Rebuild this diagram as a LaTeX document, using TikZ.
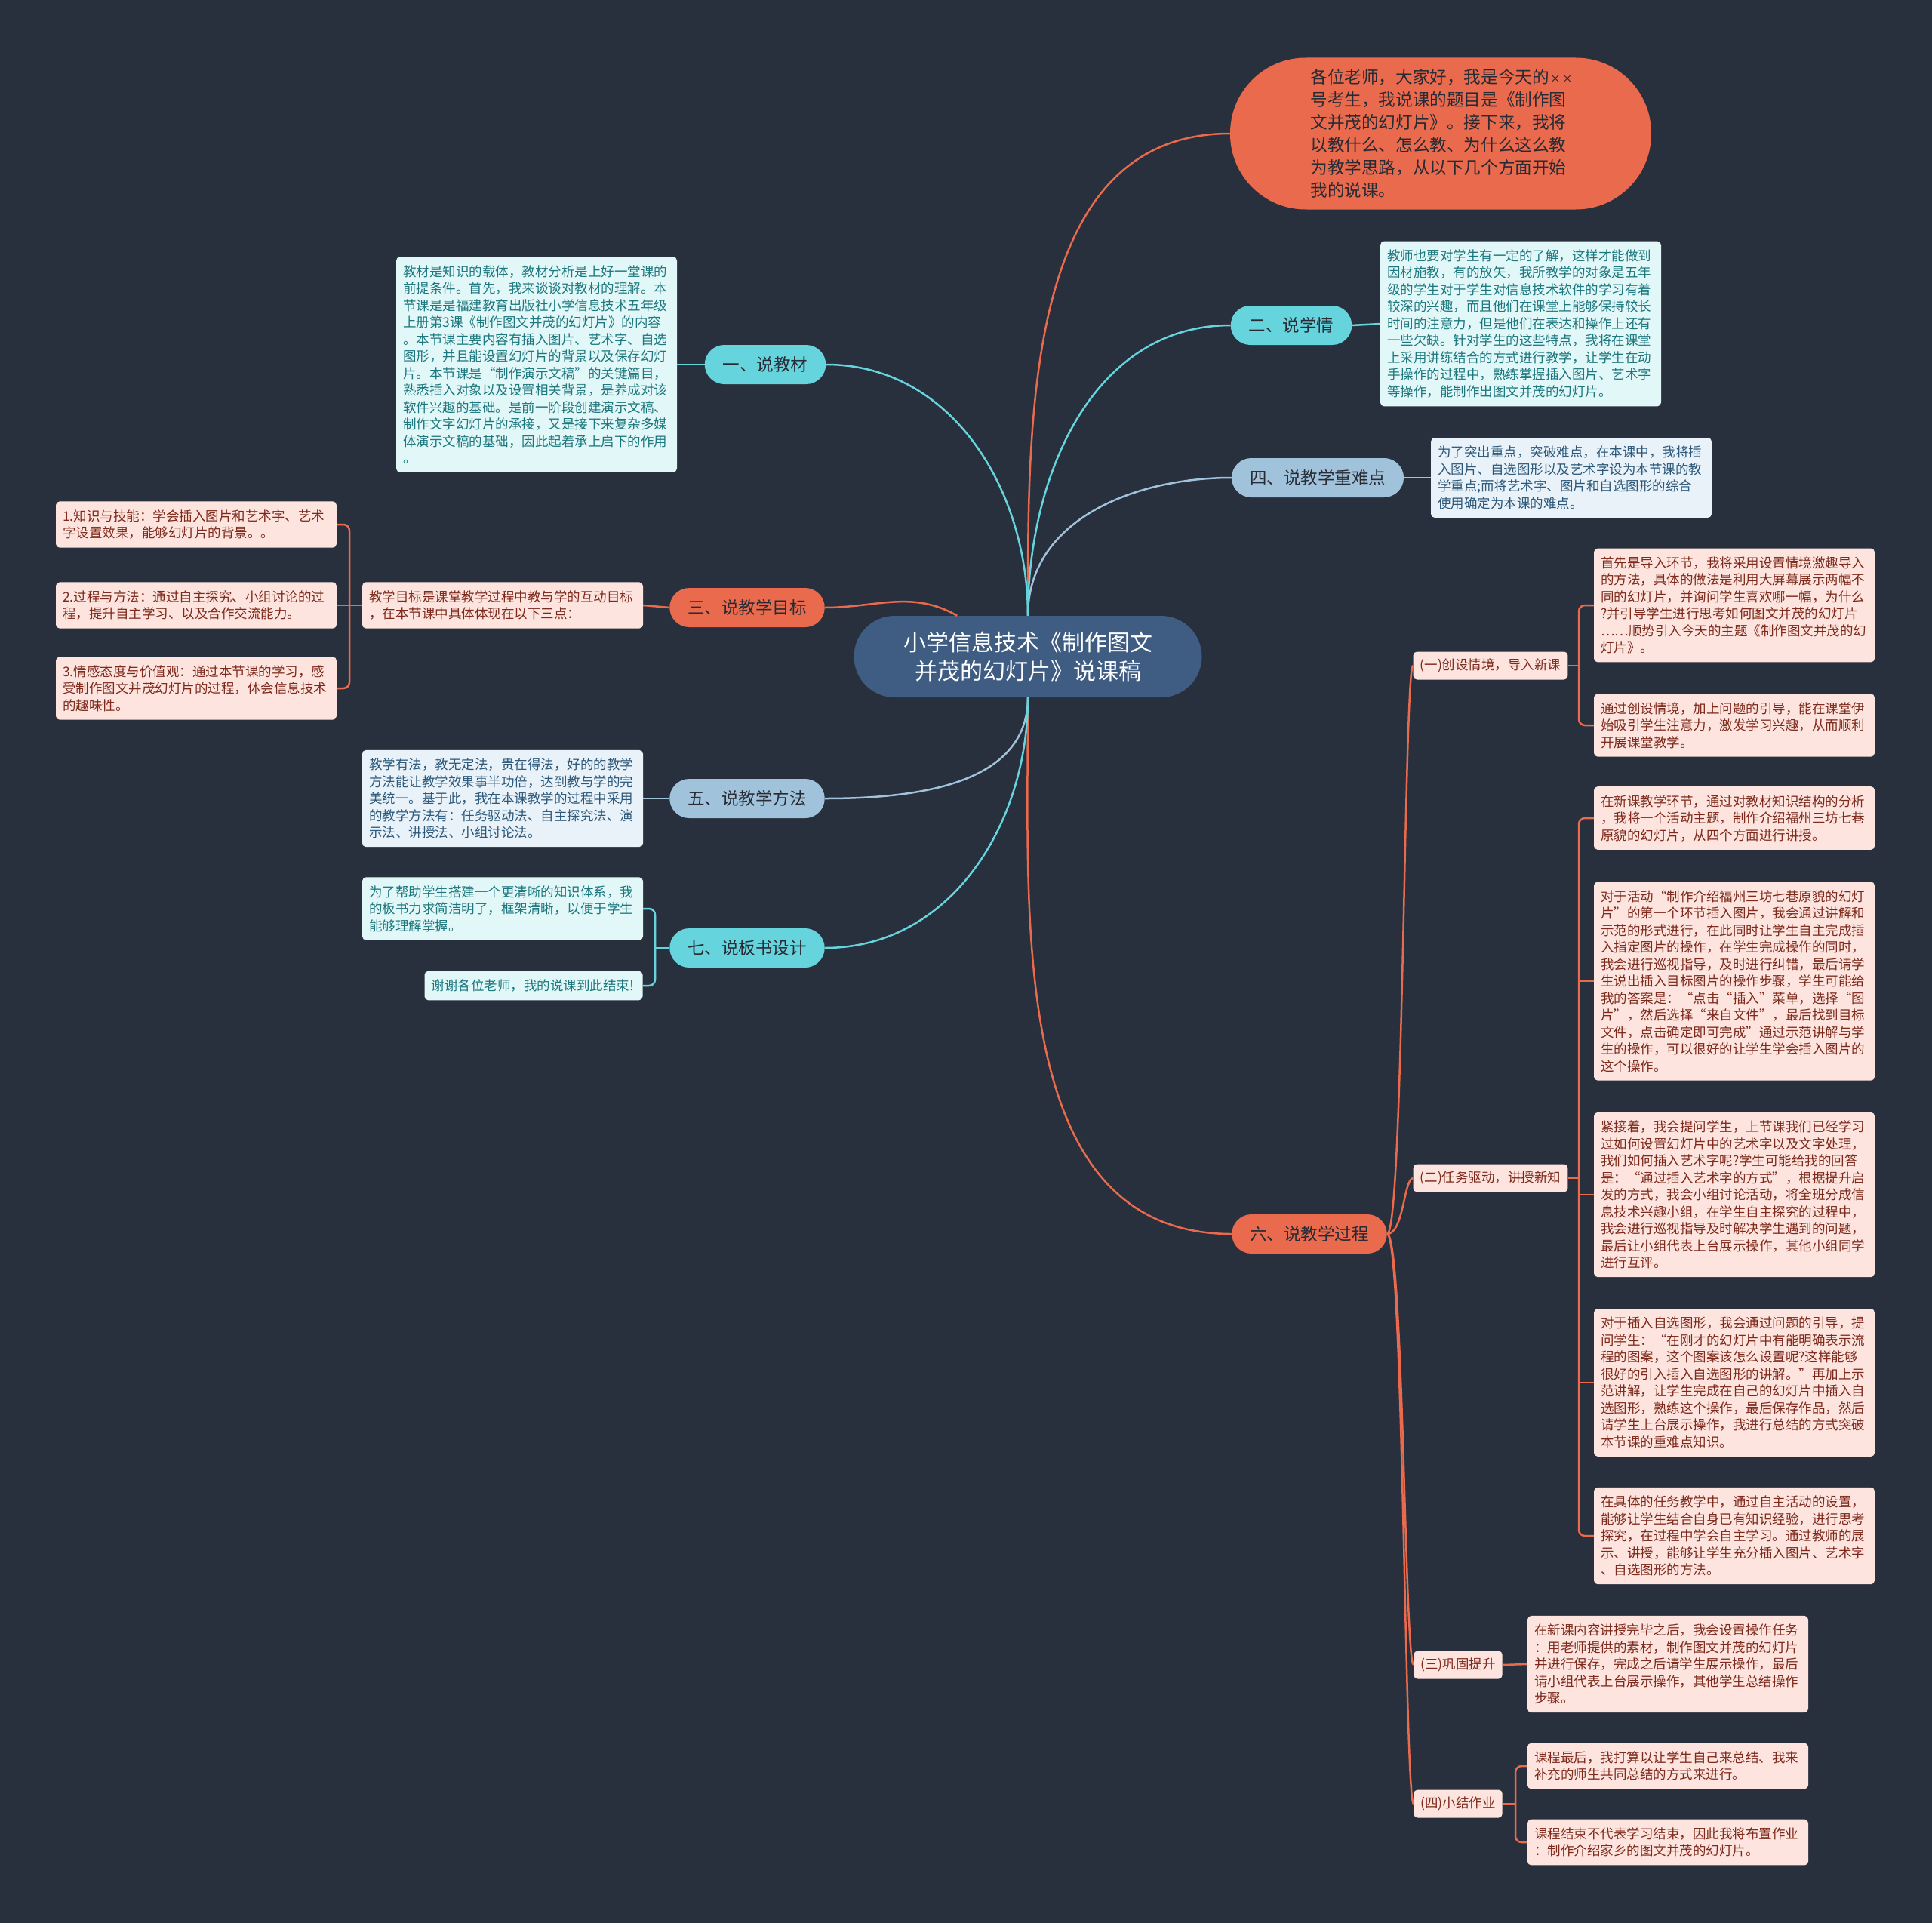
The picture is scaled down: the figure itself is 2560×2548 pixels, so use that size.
\documentclass[tikz,border=0pt]{standalone}
\usepackage{fontspec}
\setmainfont{Noto Sans CJK SC}
\definecolor{sfondo}{RGB}{41,48,61}
\definecolor{arancio}{RGB}{233,106,77}
\definecolor{ciano}{RGB}{102,212,221}
\definecolor{azzurro}{RGB}{160,194,219}
\definecolor{centro}{RGB}{63,92,130}
\definecolor{fondoC}{RGB}{226,247,248}
\definecolor{testoC}{RGB}{28,120,126}
\definecolor{fondoB}{RGB}{233,242,249}
\definecolor{testoB}{RGB}{44,88,122}
\definecolor{fondoA}{RGB}{253,228,222}
\definecolor{testoA}{RGB}{125,42,28}
\definecolor{scuro}{RGB}{40,42,52}
\begin{document}
\begin{tikzpicture}[
    x=1pt, y=-1pt,
    radice/.style={fill=centro, text=white, rounded corners=54pt, minimum width=461pt, minimum height=108pt, align=center, font=\fontsize{30}{38}\selectfont},
    bolla/.style={fill=arancio, text=scuro, rounded corners=100pt, minimum width=558pt, minimum height=201pt, text width=345pt, align=left, font=\fontsize{22.6}{30}\selectfont},
    ramo/.style={rounded corners=26pt, minimum height=52pt, inner xsep=24pt, text=scuro, font=\fontsize{22.5}{27}\selectfont},
    sotto/.style={fill=fondoA, text=testoA, rounded corners=5pt, inner xsep=9pt, minimum height=37pt, font=\fontsize{17.5}{21}\selectfont},
    foglia/.style={rounded corners=5pt, inner xsep=9pt, inner ysep=11pt, text width=354pt, align=left, font=\fontsize{17.5}{22.5}\selectfont},
    fC/.style={foglia, fill=fondoC, text=testoC},
    fB/.style={foglia, fill=fondoB, text=testoB},
    fA/.style={foglia, fill=fondoA, text=testoA},
    fune/.style={line width=2.5pt}
]

    % 0. Sfondo
    \fill[sfondo] (0,0) rectangle (2560,2548);
    \useasboundingbox (0,0) rectangle (2560,2548);

    % 1. Nodo centrale e introduzione
    \node[radice] (C)  at (1362,870) {小学信息技术《制作图文\\并茂的幻灯片》说课稿};
    \node[bolla]  (T0) at (1909,177) {各位老师，大家好，我是今天的{\fontsize{16}{30}\selectfont ××}\\号考生，我说课的题目是《制作图\\文并茂的幻灯片》。接下来，我将\\以教什么、怎么教、为什么这么教\\为教学思路，从以下几个方面开始\\我的说课。};

    % 2. Rami principali
    \node[ramo, fill=ciano]   (R2) at (1711,431)  {二、说学情};
    \node[ramo, fill=azzurro] (R4) at (1746,633)  {四、说教学重难点};
    \node[ramo, fill=arancio] (R6) at (1735,1635) {六、说教学过程};
    \node[ramo, fill=ciano]   (L1) at (1014,483)  {一、说教材};
    \node[ramo, fill=arancio] (L3) at (990,805)   {三、说教学目标};
    \node[ramo, fill=azzurro] (L5) at (990,1058)  {五、说教学方法};
    \node[ramo, fill=ciano]   (L7) at (990,1256)  {七、说板书设计};

    % 3. Foglie a sinistra
    \node[fC] (F1) at (711,483) {教材是知识的载体，教材分析是上好一堂课的\\前提条件。首先，我来谈谈对教材的理解。本\\节课是是福建教育出版社小学信息技术五年级\\上册第3课《制作图文并茂的幻灯片》的内容\\。本节课主要内容有插入图片、艺术字、自选\\图形，并且能设置幻灯片的背景以及保存幻灯\\片。本节课是“制作演示文稿”的关键篇目，\\熟悉插入对象以及设置相关背景，是养成对该\\软件兴趣的基础。是前一阶段创建演示文稿、\\制作文字幻灯片的承接，又是接下来复杂多媒\\体演示文稿的基础，因此起着承上启下的作用\\。};
    \node[fA] (F3) at (666,802) {教学目标是课堂教学过程中教与学的互动目标\\，在本节课中具体体现在以下三点：};
    \node[fA] (G1) at (260,695) {1.知识与技能：学会插入图片和艺术字、艺术\\字设置效果，能够幻灯片的背景。。};
    \node[fA] (G2) at (260,802) {2.过程与方法：通过自主探究、小组讨论的过\\程，提升自主学习、以及合作交流能力。};
    \node[fA] (G3) at (260,912) {3.情感态度与价值观：通过本节课的学习，感\\受制作图文并茂幻灯片的过程，体会信息技术\\的趣味性。};
    \node[fB] (F5) at (666,1058) {教学有法，教无定法，贵在得法，好的的教学\\方法能让教学效果事半功倍，达到教与学的完\\美统一。基于此，我在本课教学的过程中采用\\的教学方法有：任务驱动法、自主探究法、演\\示法、讲授法、小组讨论法。};
    \node[fC] (F7a) at (666,1204) {为了帮助学生搭建一个更清晰的知识体系，我\\的板书力求简洁明了，框架清晰，以便于学生\\能够理解掌握。};
    \node[fC, text width=271pt] (F7b) at (707,1306) {谢谢各位老师，我的说课到此结束!};

    % 4. Foglie a destra (rami 2 e 4)
    \node[fC] (F2) at (2015,429) {教师也要对学生有一定的了解，这样才能做到\\因材施教，有的放矢，我所教学的对象是五年\\级的学生对于学生对信息技术软件的学习有着\\较深的兴趣，而且他们在课堂上能够保持较长\\时间的注意力，但是他们在表达和操作上还有\\一些欠缺。针对学生的这些特点，我将在课堂\\上采用讲练结合的方式进行教学，让学生在动\\手操作的过程中，熟练掌握插入图片、艺术字\\等操作，能制作出图文并茂的幻灯片。};
    \node[fB] (F4) at (2082,633) {为了突出重点，突破难点，在本课中，我将插\\入图片、自选图形以及艺术字设为本节课的教\\学重点;而将艺术字、图片和自选图形的综合\\使用确定为本课的难点。};

    % 5. Sottorami del punto sei
    \node[sotto] (S1) at (1975,882)  {(一)创设情境，导入新课};
    \node[sotto] (S2) at (1975,1561) {(二)任务驱动，讲授新知};
    \node[sotto] (S3) at (1932,2206) {(三)巩固提升};
    \node[sotto] (S4) at (1932,2390) {(四)小结作业};

    % 6. Foglie dei sottorami
    \node[fA] (A1) at (2298,802) {首先是导入环节，我将采用设置情境激趣导入\\的方法，具体的做法是利用大屏幕展示两幅不\\同的幻灯片，并询问学生喜欢哪一幅，为什么\\?并引导学生进行思考如何图文并茂的幻灯片\\……顺势引入今天的主题《制作图文并茂的幻\\灯片》。};
    \node[fA] (A2) at (2298,961) {通过创设情境，加上问题的引导，能在课堂伊\\始吸引学生注意力，激发学习兴趣，从而顺利\\开展课堂教学。};
    \node[fA] (B1) at (2298,1084) {在新课教学环节，通过对教材知识结构的分析\\，我将一个活动主题，制作介绍福州三坊七巷\\原貌的幻灯片，从四个方面进行讲授。};
    \node[fA] (B2) at (2298,1300) {对于活动“制作介绍福州三坊七巷原貌的幻灯\\片”的第一个环节插入图片，我会通过讲解和\\示范的形式进行，在此同时让学生自主完成插\\入指定图片的操作，在学生完成操作的同时，\\我会进行巡视指导，及时进行纠错，最后请学\\生说出插入目标图片的操作步骤，学生可能给\\我的答案是：“点击“插入”菜单，选择“图\\片”，然后选择“来自文件”，最后找到目标\\文件，点击确定即可完成”通过示范讲解与学\\生的操作，可以很好的让学生学会插入图片的\\这个操作。};
    \node[fA] (B3) at (2298,1583) {紧接着，我会提问学生，上节课我们已经学习\\过如何设置幻灯片中的艺术字以及文字处理，\\我们如何插入艺术字呢?学生可能给我的回答\\是：“通过插入艺术字的方式”，根据提升启\\发的方式，我会小组讨论活动，将全班分成信\\息技术兴趣小组，在学生自主探究的过程中，\\我会进行巡视指导及时解决学生遇到的问题，\\最后让小组代表上台展示操作，其他小组同学\\进行互评。};
    \node[fA] (B4) at (2298,1832) {对于插入自选图形，我会通过问题的引导，提\\问学生：“在刚才的幻灯片中有能明确表示流\\程的图案，这个图案该怎么设置呢?这样能够\\很好的引入插入自选图形的讲解。”再加上示\\范讲解，让学生完成在自己的幻灯片中插入自\\选图形，熟练这个操作，最后保存作品，然后\\请学生上台展示操作，我进行总结的方式突破\\本节课的重难点知识。};
    \node[fA] (B5) at (2298,2035) {在具体的任务教学中，通过自主活动的设置，\\能够让学生结合自身已有知识经验，进行思考\\探究，在过程中学会自主学习。通过教师的展\\示、讲授，能够让学生充分插入图片、艺术字\\、自选图形的方法。};
    \node[fA] (C1) at (2210,2205) {在新课内容讲授完毕之后，我会设置操作任务\\：用老师提供的素材，制作图文并茂的幻灯片\\并进行保存，完成之后请学生展示操作，最后\\请小组代表上台展示操作，其他学生总结操作\\步骤。};
    \node[fA] (D1) at (2210,2340) {课程最后，我打算以让学生自己来总结、我来\\补充的师生共同总结的方式来进行。};
    \node[fA] (D2) at (2210,2441) {课程结束不代表学习结束，因此我将布置作业\\：制作介绍家乡的图文并茂的幻灯片。};

    % 7. Collegamenti dal centro
    \draw[fune, arancio] (C) to[out=90, in=180] (T0.west);
    \draw[fune, ciano]   (C) to[out=90, in=180] (R2.west);
    \draw[fune, azzurro] (C) to[out=90, in=180] (R4.west);
    \draw[fune, arancio] (C) to[out=-90, in=180] (R6.west);
    \draw[fune, ciano]   (C) to[out=90, in=0] (L1.east);
    \draw[fune, arancio] (C) to[out=150, in=0] (L3.east);
    \draw[fune, azzurro] (C) to[out=-90, in=0] (L5.east);
    \draw[fune, ciano]   (C) to[out=-90, in=0] (L7.east);

    % 8. Collegamenti ai sottorami
    \draw[fune, arancio] (R6.east) .. controls +(22,0) and +(-12,0) .. (S1.west);
    \draw[fune, arancio] (R6.east) .. controls +(22,0) and +(-12,0) .. (S2.west);
    \draw[fune, arancio] (R6.east) .. controls +(22,0) and +(-12,0) .. (S3.west);
    \draw[fune, arancio] (R6.east) .. controls +(22,0) and +(-12,0) .. (S4.west);

    % 9. Collegamenti alle foglie
    \coordinate (J3) at (463,802);
    \coordinate (J7) at (868,1256);
    \coordinate (J1) at (2092,882);
    \coordinate (J2) at (2092,1561);
    \coordinate (J4) at (2008,2390);

    \draw[fune, ciano]   (L1.west) -- (F1.east);
    \draw[fune, ciano]   (R2.east) -- (F2.west);
    \draw[fune, azzurro] (R4.east) -- (F4.west);
    \draw[fune, azzurro] (L5.west) -- (F5.east);
    \draw[fune, arancio] (L3.west) -- (F3.east);
    \draw[fune, arancio] (S3.east) -- (C1.west);

    \draw[fune, arancio] (F3.west) -- (J3);
    \draw[fune, arancio, rounded corners=8pt] (G1.east) -| (J3) |- (G3.east);
    \draw[fune, arancio] (J3) -- (G2.east);

    \draw[fune, ciano] (L7.west) -- (J7);
    \draw[fune, ciano, rounded corners=8pt] (F7a.east) -| (J7) |- (F7b.east);

    \draw[fune, arancio] (S1.east) -- (J1);
    \draw[fune, arancio, rounded corners=8pt] (A1.west) -| (J1) |- (A2.west);

    \draw[fune, arancio] (S2.east) -- (J2);
    \draw[fune, arancio, rounded corners=8pt] (B1.west) -| (J2) |- (B5.west);
    \draw[fune, arancio] (B2.west -| J2) -- (B2.west);
    \draw[fune, arancio] (B3.west -| J2) -- (B3.west);
    \draw[fune, arancio] (B4.west -| J2) -- (B4.west);

    \draw[fune, arancio] (S4.east) -- (J4);
    \draw[fune, arancio, rounded corners=8pt] (D1.west) -| (J4) |- (D2.west);

\end{tikzpicture}
\end{document}
